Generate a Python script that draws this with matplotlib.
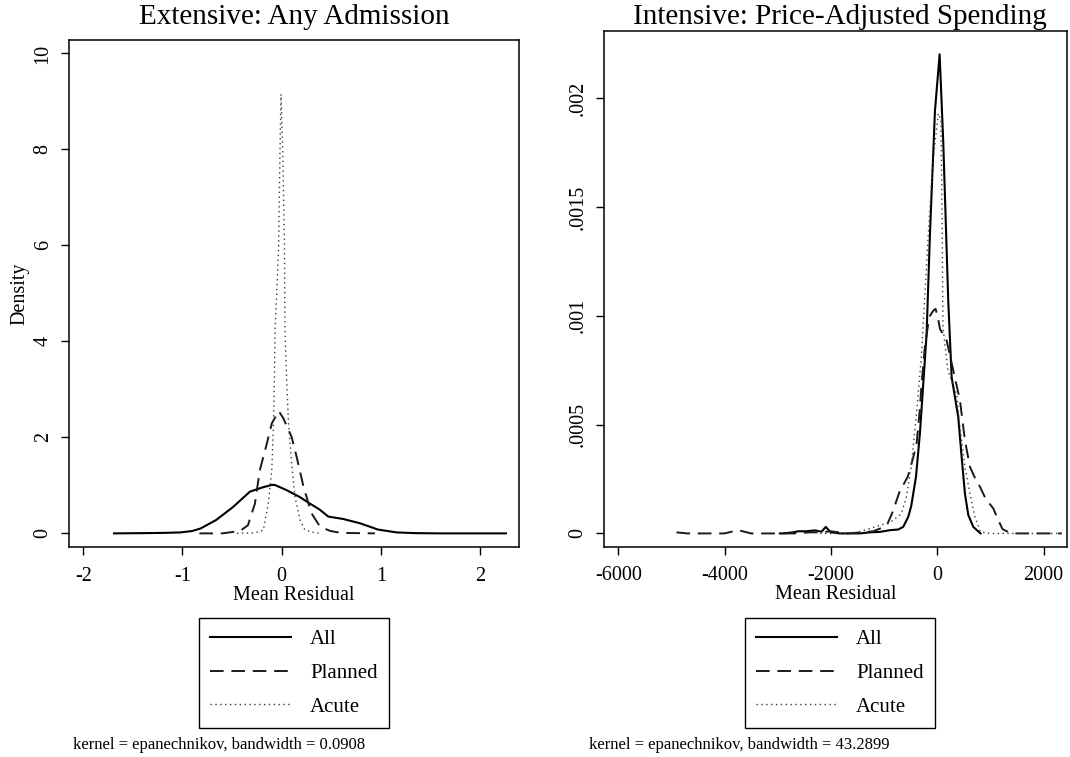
import matplotlib
matplotlib.use('Agg')
import matplotlib.pyplot as plt

plt.rcParams['font.family'] = ['Liberation Serif', 'DejaVu Serif']

# Extensive margin: any admission (kernel densities)
ext_all_x = [-1.69, -1.4, -1.2, -1.02, -0.9, -0.82, -0.66, -0.49, -0.40, -0.32, -0.19, -0.10, -0.07,
             0.05, 0.18, 0.285, 0.38, 0.47, 0.62, 0.79, 0.97, 1.16, 1.35, 1.6, 2.0, 2.26]
ext_all_y = [0.0, 0.005, 0.01, 0.02, 0.05, 0.10, 0.28, 0.55, 0.72, 0.87, 0.96, 1.01, 1.01,
             0.90, 0.76, 0.62, 0.50, 0.35, 0.30, 0.21, 0.08, 0.02, 0.005, 0.0, 0.0, 0.0]

ext_planned_x = [-0.83, -0.6, -0.42, -0.34, -0.27, -0.22, -0.15, -0.10, -0.03, 0.016, 0.10, 0.15,
                 0.22, 0.30, 0.386, 0.49, 0.6, 0.94]
ext_planned_y = [0.0, 0.0, 0.05, 0.17, 0.62, 1.32, 1.87, 2.29, 2.55, 2.40, 2.01, 1.60,
                 0.97, 0.42, 0.14, 0.05, 0.01, 0.0]

ext_acute_x = [-0.45, -0.30, -0.23, -0.185, -0.135, -0.10, -0.085, -0.074, -0.067, -0.05, -0.031,
               -0.017, -0.007, 0.01, 0.028, 0.033, 0.05, 0.067, 0.10, 0.134, 0.185, 0.235, 0.32, 0.39]
ext_acute_y = [0.0, 0.01, 0.03, 0.07, 0.62, 1.32, 2.15, 3.19, 4.24, 5.0, 6.0,
               8.0, 9.15, 8.0, 6.0, 4.24, 3.19, 2.36, 1.46, 0.76, 0.28, 0.07, 0.02, 0.0]

# Intensive margin: price-adjusted spending
int_all_x = [-2960, -2898, -2710, -2616, -2458, -2302, -2176, -2097, -2000, -1832, -1456, -1267,
             -1078, -890, -734, -640, -546, -490, -400, -326, -263, -200, -137, -43, 45, 113, 207,
             271, 395, 459, 521, 584, 678, 815]
int_all_y = [0, 0, 0.000005, 0.00001, 0.00001, 0.000014, 0.000008, 0.00003, 0.000005, 0, 0, 0.000005,
             0.000007, 0.000015, 0.000018, 0.00003, 0.000076, 0.000125, 0.00026, 0.000459, 0.000688,
             0.000917, 0.001376, 0.001942, 0.002202, 0.0018, 0.00107, 0.000718, 0.000535, 0.000351,
             0.000183, 0.000085, 0.00003, 0]

int_planned_x = [-4905, -4700, -4400, -4000, -3745, -3500, -3200, -3000, -2700, -2400, -2200, -2000,
                 -1700, -1400, -1200, -1000, -936, -840, -713, -554, -458, -388, -331, -294, -236,
                 -172, -137, -76, -32, 6, 51, 177, 301, 427, 521, 615, 700, 804, 910, 1054, 1150,
                 1228, 1388, 1700, 2000, 2340]
int_planned_y = [0.000005, 0, 0, 0, 0.000015, 0, 0, 0, 0, 0.000005, 0.000005, 0.00001,
                 0, 0.000005, 0.00001, 0.00003, 0.000044, 0.000098, 0.000189, 0.000261, 0.000343,
                 0.000413, 0.00056, 0.000688, 0.00085, 0.00096, 0.001, 0.001023, 0.001032, 0.001,
                 0.00094, 0.000887, 0.00075, 0.000612, 0.000428, 0.000306, 0.00026, 0.000214,
                 0.00016, 0.000115, 0.00006, 0.00002, 0, 0, 0, 0]

int_acute_x = [-2200, -1800, -1500, -1300, -1127, -872, -681, -586, -490, -395, -299, -172, -76,
               -40, 20, 70, 90, 107, 200, 300, 365, 427, 521, 615, 709, 815, 1000, 1500, 2000, 2340]
int_acute_y = [0, 0, 0.000005, 0.00002, 0.000034, 0.000053, 0.000089, 0.00016, 0.000306, 0.00054,
               0.00081, 0.00136, 0.00172, 0.0018, 0.00193, 0.0019, 0.0015, 0.00095, 0.00075,
               0.00068, 0.00064, 0.00049, 0.000306, 0.000183, 0.000076, 0.000007, 0, 0, 0, 0]

legend_labels = ['All', 'Planned', 'Acute']

ext_xticks = [-2, -1, 0, 1, 2]
ext_xticklabels = ['-2', '-1', '0', '1', '2']
ext_yticks = [0, 2, 4, 6, 8, 10]
ext_yticklabels = ['0', '2', '4', '6', '8', '10']

int_xticks = [-6000, -4000, -2000, 0, 2000]
int_xticklabels = ['-6000', '-4000', '-2000', '0', '2000']
int_yticks = [0, 0.0005, 0.001, 0.0015, 0.002]
int_yticklabels = ['0', '.0005', '.001', '.0015', '.002']

W, H = 1070, 757


def draw_panel(ax, series, xticks, xtl, yticks, ytl, xlim, ylim):
    # three kernel densities: solid, dashed, dotted
    estilos = [dict(color='black', lw=1.5, ls='-'),
               dict(color='#1a1a1a', lw=1.4, ls=(0, (7, 4))),
               dict(color='#3a3a3a', lw=1.0, ls=(0, (1, 2.5)))]
    for (x, y), st, lab in zip(series, estilos, legend_labels):
        ax.plot(x, y, label=lab, **st)
    ax.set_xlim(*xlim)
    ax.set_ylim(*ylim)
    ax.set_xticks(xticks)
    ax.set_xticklabels(xtl)
    ax.set_yticks(yticks)
    ax.set_yticklabels(ytl, rotation=90, va='center')
    ax.tick_params(axis='x', direction='out', length=6, width=1.0, labelsize=14.5, pad=8)
    ax.tick_params(axis='y', direction='out', length=6, width=1.0, labelsize=14.5, pad=6)
    for s in ax.spines.values():
        s.set_linewidth(1.1)
    ax.set_xlabel('Mean Residual', fontsize=14.5, labelpad=0)


fig = plt.figure(figsize=(W / 100, H / 100), dpi=100)

# positions in pixels
ax1 = fig.add_axes([69.3 / W, 1 - 547.3 / H, 449.7 / W, 507.3 / H])
ax2 = fig.add_axes([604.3 / W, 1 - 546.7 / H, 462.7 / W, 515.7 / H])

draw_panel(ax1, [(ext_all_x, ext_all_y), (ext_planned_x, ext_planned_y), (ext_acute_x, ext_acute_y)],
           ext_xticks, ext_xticklabels, ext_yticks, ext_yticklabels,
           (-2.141, 2.392), (-0.29, 10.28))
ax1.set_ylabel('Density', fontsize=14.5, labelpad=3)

draw_panel(ax2, [(int_all_x, int_all_y), (int_planned_x, int_planned_y), (int_acute_x, int_acute_y)],
           int_xticks, int_xticklabels, int_yticks, int_yticklabels,
           (-6263, 2441), (-0.000061, 0.002309))

# titles
fig.text(294 / W, 1 - 17 / H, 'Extensive: Any Admission', ha='center', va='center', fontsize=21)
fig.text(840 / W, 1 - 17 / H, 'Intensive: Price-Adjusted Spending', ha='center', va='center', fontsize=21)

# legends below each panel
for ax, cx in [(ax1, 294), (ax2, 840)]:
    leg = ax.legend(loc='upper center', bbox_to_anchor=(cx / W, 1 - 618 / H),
                    bbox_transform=fig.transFigure, ncol=1, fontsize=15,
                    frameon=True, fancybox=False, edgecolor='black', framealpha=1,
                    handlelength=3.9, handletextpad=0.9, labelspacing=0.68,
                    borderpad=0.55, borderaxespad=0)
    leg.get_frame().set_linewidth(1.0)

# kernel notes
fig.text(73 / W, 1 - 745 / H, 'kernel = epanechnikov, bandwidth = 0.0908', ha='left', va='center', fontsize=12)
fig.text(589 / W, 1 - 745 / H, 'kernel = epanechnikov, bandwidth = 43.2899', ha='left', va='center', fontsize=12)

fig.savefig('out.png', dpi=100)
